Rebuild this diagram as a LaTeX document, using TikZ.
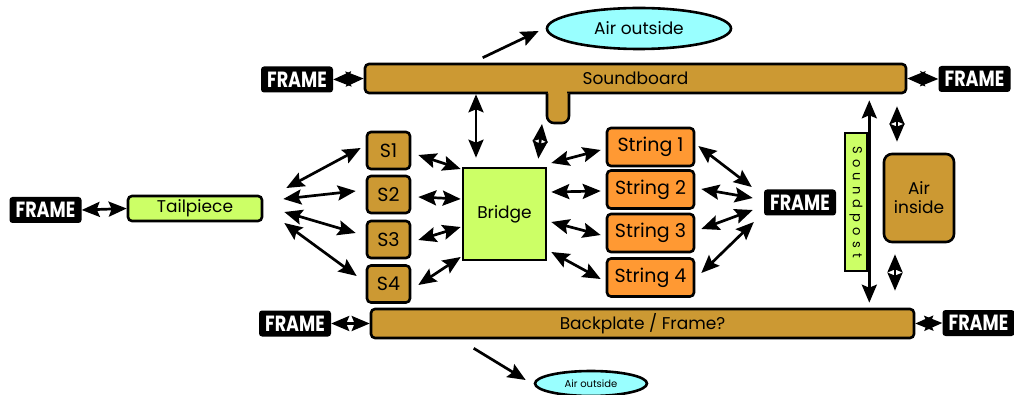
\documentclass[tikz,border=0pt]{standalone}
\usepackage{fontspec}
\setmainfont{Poppins}
\usetikzlibrary{arrows.meta,shapes.geometric}

\definecolor{woodbrown}{HTML}{CC9933}
\definecolor{partgreen}{HTML}{CCFF66}
\definecolor{stringorange}{HTML}{FF9933}
\definecolor{airblue}{HTML}{99FFFF}

\tikzset{
  part/.style={rectangle,draw=black,line width=2.6pt,rounded corners=4pt,inner sep=0pt,
    font=\fontsize{17}{19}\selectfont},
  woodpart/.style={part,fill=woodbrown},
  greenpart/.style={part,fill=partgreen},
  stringpart/.style={part,fill=stringorange,minimum width=87pt,minimum height=38pt,
    font=\fontsize{19}{21}\selectfont},
  sadpart/.style={woodpart,minimum width=43pt,minimum height=37pt,font=\fontsize{19}{21}\selectfont},
  framelabel/.style={rectangle,fill=black,rounded corners=3pt,inner sep=0pt,text=white,
    minimum width=72pt,minimum height=26pt,font=\fontsize{22}{24}\bfseries\selectfont},
  airpart/.style={ellipse,draw=black,line width=2.6pt,fill=airblue,inner sep=0pt},
  tip/.style={Stealth[length=18pt,width=15pt,inset=3pt]},
  link/.style={line width=2.7pt,{Stealth[length=18pt,width=15pt,inset=3pt]}-{Stealth[length=18pt,width=15pt,inset=3pt]}},
  oneway/.style={line width=2.7pt,-{Stealth[length=18pt,width=15pt,inset=3pt]}}
}
\newcommand{\framelbl}{\scalebox{0.8}[1]{FRAME}}

\begin{document}
\begin{tikzpicture}[x=1pt,y=-1pt]
  \useasboundingbox (0,0) rectangle (1014,395);

  % plates
  \node[woodpart,minimum width=541pt,minimum height=29pt] (sb) at (635.5,78.5) {Soundboard};
  \node[woodpart,minimum width=543pt,minimum height=29pt] (bp) at (642.5,323.5) {Backplate / Frame?};
  % stub under the soundboard
  \fill[woodbrown] (548,90) rectangle (567,110);
  \draw[line width=2.6pt,fill=woodbrown,rounded corners=7pt] (547,93.5) -- (547,123) -- (569,123) -- (569,93.5);
  \coordinate (stub) at (542,124);

  \node[airpart,minimum width=184pt,minimum height=41pt,font=\fontsize{17}{19}\selectfont] (air1) at (639,28.5) {Air outside};
  \node[airpart,minimum width=112pt,minimum height=25pt,font=\fontsize{10}{12}\selectfont] (air2) at (591,383.5) {Air outside};

  % frames
  \node[framelabel] (fr1) at (297,79.5) {\framelbl};
  \node[framelabel] (fr2) at (974.5,79) {\framelbl};
  \node[framelabel] (fr3) at (45.5,210) {\framelbl};
  \node[framelabel] (fr4) at (800,202.5) {\framelbl};
  \node[framelabel] (fr5) at (295,323.5) {\framelbl};
  \node[framelabel] (fr6) at (978.5,323) {\framelbl};

  \node[greenpart,minimum width=134pt,minimum height=25pt] (tail) at (195,208.5) {Tailpiece};

  % saddles
  \node[sadpart] (s1) at (388.5,150.5) {S1};
  \node[sadpart] (s2) at (388.5,194.5) {S2};
  \node[sadpart] (s3) at (388.5,239.5) {S3};
  \node[sadpart] (s4) at (388.5,284) {S4};

  \node[greenpart,rounded corners=0pt,minimum width=83pt,minimum height=92pt] (br) at (504.5,214) {Bridge};

  % strings
  \node[stringpart] (st1) at (650.5,147) {String 1};
  \node[stringpart] (st2) at (650.5,189.5) {String 2};
  \node[stringpart] (st3) at (650.5,233) {String 3};
  \node[stringpart] (st4) at (650.5,277.5) {String 4};

  \node[greenpart,rounded corners=0pt,minimum width=22pt,minimum height=138pt] (sp) at (856,202)
    {\rotatebox{-90}{\fontsize{13}{15}\addfontfeatures{LetterSpace=40}\selectfont Soundpost}};
  \node[woodpart,rounded corners=8pt,minimum width=70pt,minimum height=88pt,align=center] (ai) at (919,198) {Air\\inside};

  % frame links
  \draw[link] (fr1.east) -- (sb.west);
  \draw[link] (sb.east) -- (fr2.west);
  \draw[link] (fr3.east) -- (tail.west);
  \draw[link] (fr5.east) -- (bp.west);
  \draw[link] (bp.east) -- (fr6.west);

  % radiation
  \draw[oneway] ([shift={(119,-5)}]sb.north west) -- ([shift={(-7,2.5)}]air1.west);
  \draw[oneway] ([shift={(104,9)}]bp.south west) -- ([shift={(-8,-3.5)}]air2.west);

  % tailpiece to saddles
  \draw[link] ([shift={(23,-20.5)}]tail.east) -- ([shift={(-5,-2.5)}]s1.west);
  \draw[link] ([shift={(20,-9.5)}]tail.east) -- ([shift={(-10,-3.5)}]s2.west);
  \draw[link] ([shift={(21,3.5)}]tail.east) -- ([shift={(-10,-6.5)}]s3.west);
  \draw[link] ([shift={(21,14.5)}]tail.east) -- ([shift={(-9,-8)}]s4.west);

  % saddles to bridge
  \draw[link] ([shift={(7,4.5)}]s1.east) -- ([shift={(-1,-45)}]br.west);
  \draw[link] ([shift={(7,2.5)}]s2.east) -- ([shift={(-1,-15)}]br.west);
  \draw[link] ([shift={(7,0.5)}]s3.east) -- ([shift={(-1,13)}]br.west);
  \draw[link] ([shift={(7,1)}]s4.east) -- ([shift={(-1,43)}]br.west);

  % bridge to strings
  \draw[link] ([shift={(4,-51)}]br.east) -- ([shift={(-5,3)}]st1.west);
  \draw[link] ([shift={(4,-22)}]br.east) -- ([shift={(-5,1.5)}]st2.west);
  \draw[link] ([shift={(4,8)}]br.east) -- ([shift={(-5,2)}]st3.west);
  \draw[link] ([shift={(4,38)}]br.east) -- ([shift={(-5,1.5)}]st4.west);

  % strings to frame
  \draw[link] ([shift={(3,-1)}]st1.east) -- ([shift={(-12,-15.5)}]fr4.west);
  \draw[link] ([shift={(6,-0.5)}]st2.east) -- ([shift={(-11,-4.5)}]fr4.west);
  \draw[link] ([shift={(6,-4)}]st3.east) -- ([shift={(-11,7.5)}]fr4.west);
  \draw[link] ([shift={(6,-4.5)}]st4.east) -- ([shift={(-10,19.5)}]fr4.west);

  % soundboard, bridge, soundpost, air inside
  \draw[link] ([xshift=-28.5pt]br.north |- sb.south) -- ([shift={(-28.5,-9)}]br.north);
  \draw[link] (stub) -- ([shift={(-9,-8)}]br.north east);
  \draw[link,shorten <=6pt,shorten >=5pt] ([xshift=1pt]sp.east |- sb.south) -- ([xshift=1pt]sp.east |- bp.north);
  \draw[link,shorten <=12pt,shorten >=11pt] ([xshift=-22pt]ai.north |- sb.south) -- ([xshift=-22pt]ai.north);
  \draw[link,shorten <=11pt,shorten >=17pt] ([xshift=-24pt]ai.south) -- ([xshift=-24pt]ai.south |- bp.north);
\end{tikzpicture}
\end{document}
